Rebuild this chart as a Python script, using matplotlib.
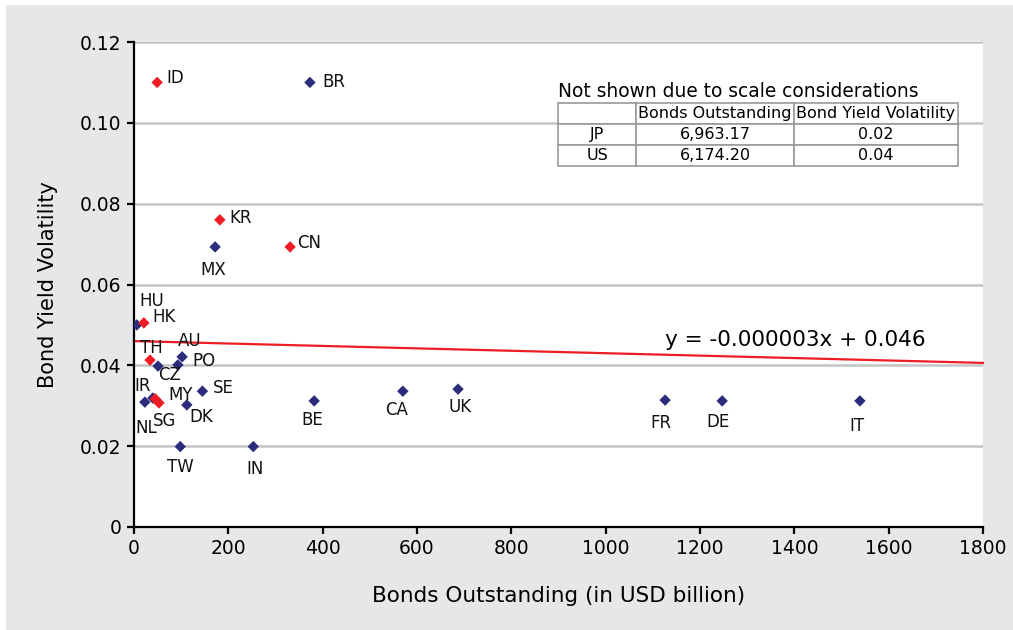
import matplotlib.pyplot as plt
from matplotlib.patches import Rectangle

# country codes, bonds outstanding (USD bn), bond yield volatility
countries = ["ID", "BR", "KR", "MX", "CN", "HU", "HK", "TH", "CZ", "AU", "PO", "SE",
             "IR", "NL", "MY", "SG", "DK", "TW", "IN", "BE", "CA", "UK", "FR", "DE", "IT"]
bonds = [49, 373, 182, 172, 331, 6, 21, 34, 51, 102, 93, 145,
         40, 23, 45, 53, 112, 98, 253, 382, 570, 687, 1126, 1247, 1539]
volatility = [0.110, 0.110, 0.076, 0.0693, 0.0693, 0.050, 0.0505, 0.0413, 0.0398, 0.0421, 0.0401, 0.0336,
              0.0319, 0.0309, 0.0317, 0.0307, 0.0302, 0.0199, 0.0199, 0.0312, 0.0336, 0.0341, 0.0314, 0.0312, 0.0312]
is_asia = [True, False, True, False, True, False, True, True, False, False, False, False,
           False, False, True, True, False, False, False, False, False, False, False, False, False]

# label offsets in pixels (dx, dy) and horizontal alignment
label_dx = [9, 12, 10, -2, 7, 3, 8, -10, 0, -4, 15, 10, -10, 1, 25, 6, 14, 0, 2, -2, -6, 2, -4, -4, -3]
label_dy = [4, 0, 2, -23, 4, 24, 6, 12, -9, 16, 4, 3, 12, -26, 4, -18, -12, -20, -22, -19, -19, -18, -23, -21, -25]
label_ha = ["left", "left", "left", "center", "left", "left", "left", "left", "left", "left", "left", "left",
            "center", "center", "center", "center", "center", "center", "center", "center", "center",
            "center", "center", "center", "center"]

# trend line
slope = -0.000003
intercept = 0.046
trend_x = [0, 1800]

# side table
table_title = "Not shown due to scale considerations"
table_cols = ["", "Bonds Outstanding", "Bond Yield Volatility"]
table_rows = [["JP", "6,963.17", "0.02"],
              ["US", "6,174.20", "0.04"]]

navy = "#2b2d7c"
red = "#ee1c25"
bg = "#e6e7e9"

fig = plt.figure(figsize=(10.13, 6.30), dpi=100, facecolor="white")
fig.patches.append(Rectangle((6 / 1013, 0), 1, (630 - 5) / 630, transform=fig.transFigure,
                             facecolor=bg, edgecolor="none", zorder=-10))

ax = fig.add_axes([134 / 1013, 103 / 630, 849 / 1013, 485 / 630])
ax.set_facecolor("white")

ax.set_xlim(0, 1800)
ax.set_ylim(0, 0.12)
ax.set_xticks(range(0, 1801, 200))
ax.set_yticks([0, 0.02, 0.04, 0.06, 0.08, 0.10, 0.12])
ax.set_yticklabels(["0", "0.02", "0.04", "0.06", "0.08", "0.10", "0.12"])
ax.grid(axis="y", color="#c4c4c4", linewidth=1.8)
ax.set_axisbelow(True)
for s in ["top", "right"]:
    ax.spines[s].set_visible(False)
for s in ["left", "bottom"]:
    ax.spines[s].set_linewidth(1.6)
ax.tick_params(direction="out", length=5, width=1.6, labelsize=13.5, pad=4)

colors = [red if a else navy for a in is_asia]
ax.scatter(bonds, volatility, marker="D", s=34, c=colors, linewidths=0, zorder=3)

for i, name in enumerate(countries):
    ax.annotate(name, (bonds[i], volatility[i]), xytext=(label_dx[i], label_dy[i]),
                textcoords="offset pixels", ha=label_ha[i], va="center",
                fontsize=12, color="#111111", zorder=4)

trend_y = [slope * x + intercept for x in trend_x]
ax.plot(trend_x, trend_y, color=red, linewidth=1.6, zorder=2, clip_on=False)
fig.text(665 / 1013, (630 - 340) / 630, "y = -0.000003x + 0.046", fontsize=15.6, va="center", ha="left")

ax.set_xlabel("Bonds Outstanding (in USD billion)", fontsize=15.5, labelpad=20)
ax.set_ylabel("Bond Yield Volatility", fontsize=15, labelpad=16)

# table of outliers
tx0 = (558 - 134) / 849
ty0 = (527 - 166) / 485
tw = (958 - 558) / 849
th = (166 - 103) / 485
tbl = ax.table(cellText=[table_cols] + table_rows, cellLoc="center",
               colWidths=[78, 158, 164], bbox=[tx0, ty0, tw, th], zorder=5)
tbl.auto_set_font_size(False)
tbl.set_fontsize(11.5)
for cell in tbl.get_celld().values():
    cell.set_edgecolor("#9a9a9a")
    cell.set_linewidth(1.2)
    cell.set_facecolor("white")
ax.text(tx0, ty0 + th + 0.004, table_title, transform=ax.transAxes,
        fontsize=13.4, ha="left", va="bottom")

fig.savefig("out.png", dpi=100, facecolor=fig.get_facecolor())
